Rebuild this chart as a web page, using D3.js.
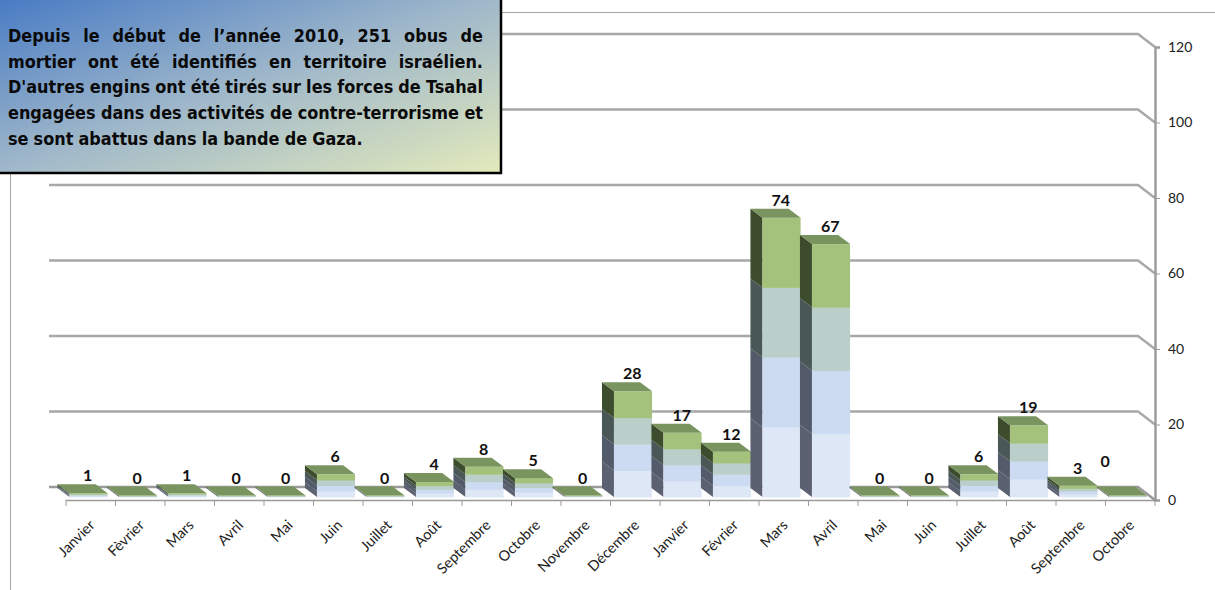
<!DOCTYPE html>
<html>
<head>
<meta charset="utf-8">
<script src="https://cdn.jsdelivr.net/npm/d3@7"></script>
<style>
  body { margin: 0; background: #fff; }
  svg { display: block; }
</style>
</head>
<body>
<div id="chart"></div>
<script>
/*
 *  Data
 */
const months = ['Janvier', 'Fèvrier', 'Mars', 'Avril', 'Mai', 'Juin', 'Juillet', 'Août',
    'Septembre', 'Octobre', 'Novembre', 'Décembre', 'Janvier', 'Février', 'Mars', 'Avril',
    'Mai', 'Juin', 'Juillet', 'Août', 'Septembre', 'Octobre'];
const shells = [1, 0, 1, 0, 0, 6, 0, 4, 8, 5, 0, 28, 17, 12, 74, 67, 0, 0, 6, 19, 3, 0];
const yTicks = [0, 20, 40, 60, 80, 100, 120];
const noteLines = [
    'Depuis le début de l’année 2010, 251 obus de',
    'mortier ont été identifiés en territoire israélien.',
    'D\'autres engins ont été tirés sur les forces de Tsahal',
    'engagées dans des activités de contre-terrorisme et',
    'se sont abattus dans la bande de Gaza.'
];

const data = months.map((m, i) => ({ key: i, month: m, value: shells[i] }));

/*
 *  Draw chart
 */
const width = 1215;
const height = 590;

const svg = d3.select('#chart').append('svg')
    .attr('width', width)
    .attr('height', height);

// Scales
const xScale = d3.scaleBand()
    .domain(data.map(d => d.key))
    .range([66, 1155]);

const yScale = d3.scaleLinear()
    .domain([0, 120])
    .range([500, 47]);

// depth of the back wall and of the bars (3D look)
const wallDx = -17, wallDy = -13;
const barDx = -12, barDy = -9;
const frontDy = -3;

// Chart area border
svg.append('rect')
    .attr('x', 10.5).attr('y', 12.5)
    .attr('width', 1400).attr('height', 800)
    .attr('fill', 'none')
    .attr('stroke', '#a6a6a6');

// Gridlines on back wall + slant to the axis
const grid = svg.append('g').attr('class', 'grid');
grid.selectAll('path')
    .data(yTicks)
    .enter()
    .append('path')
    .attr('d', v => {
        const y = yScale(v);
        return `M${66 + wallDx},${y + wallDy}H${1155 + wallDx}L1155,${y}`;
    })
    .attr('fill', 'none')
    .attr('stroke', v => v === 0 ? '#9a9a9a' : '#a8a8a8')
    .attr('stroke-width', 2.4);

// Front floor edge
svg.append('line')
    .attr('x1', 66).attr('x2', 1155)
    .attr('y1', 500.5).attr('y2', 500.5)
    .attr('stroke', '#9a9a9a')
    .attr('stroke-width', 1.5);

// Category ticks
svg.append('g')
    .selectAll('line')
    .data(d3.range(months.length + 1))
    .enter()
    .append('line')
    .attr('x1', i => 66 + i * xScale.step())
    .attr('x2', i => 66 + i * xScale.step())
    .attr('y1', 500).attr('y2', 506)
    .attr('stroke', '#9a9a9a');

// Value axis (right side)
const yAxis = d3.axisRight(yScale)
    .tickValues(yTicks)
    .tickSize(5)
    .tickPadding(8);

const yAxisGroup = svg.append('g')
    .attr('class', 'axis y-axis')
    .attr('transform', 'translate(1155,0)')
    .call(yAxis);

yAxisGroup.select('.domain')
    .attr('stroke', '#9a9a9a')
    .attr('stroke-width', 2.4);
yAxisGroup.selectAll('.tick line').attr('stroke', '#9a9a9a');
yAxisGroup.selectAll('.tick text')
    .attr('font-family', 'Lato, sans-serif')
    .attr('font-size', 14)
    .attr('fill', '#222');

// Bars
const frontBands = ['#dde7f6', '#cddbf2', '#bacfca', '#a4c27b'];
const sideBands = ['#5b6171', '#535b6b', '#4a5757', '#3e4c2e'];
const topColor = '#7a9460';

const barW = xScale.bandwidth() * 0.77;
const barX = d => xScale(d.key) + xScale.bandwidth() * 0.07;

const bars = svg.append('g')
    .selectAll('g')
    .data(data)
    .enter()
    .append('g')
    .attr('class', 'bar');

bars.each(function(d) {
    const g = d3.select(this);
    const x0 = barX(d);
    const yb = yScale(0) + frontDy;
    const yt = Math.min(yScale(d.value) + frontDy, yb - 1.5);
    const h = yb - yt;

    // four bands up the bar
    for (let k = 0; k < 4; k++) {
        const y1 = yb - h * k / 4;
        const y2 = yb - h * (k + 1) / 4;
        g.append('polygon')
            .attr('points', [[x0, y1], [x0, y2], [x0 + barDx, y2 + barDy], [x0 + barDx, y1 + barDy]].join(' '))
            .attr('fill', sideBands[k]);
        g.append('rect')
            .attr('x', x0)
            .attr('y', y2)
            .attr('width', barW)
            .attr('height', y1 - y2 + 0.4)
            .attr('fill', frontBands[k]);
    }

    // top face
    g.append('polygon')
        .attr('points', [[x0, yt], [x0 + barW, yt], [x0 + barW + barDx, yt + barDy], [x0 + barDx, yt + barDy]].join(' '))
        .attr('fill', topColor);
});

// Value labels (the last one sits higher in the original)
svg.append('g')
    .selectAll('text')
    .data(data)
    .enter()
    .append('text')
    .attr('x', d => xScale(d.key) + xScale.bandwidth() / 2 - 3 + (d.key === 21 ? -22 : 0))
    .attr('y', d => Math.min(yScale(d.value), yScale(0) - 1.5) + frontDy + barDy - 3 + (d.key === 21 ? -17 : 0))
    .attr('text-anchor', 'middle')
    .attr('font-family', 'Lato, sans-serif')
    .attr('font-weight', 'bold')
    .attr('font-size', 16)
    .attr('fill', '#111')
    .text(d => d.value);

// Month labels
svg.append('g')
    .selectAll('text')
    .data(data)
    .enter()
    .append('text')
    .attr('transform', d => `translate(${xScale(d.key) + xScale.bandwidth() / 2 + 5},526) rotate(-45)`)
    .attr('text-anchor', 'end')
    .attr('font-family', 'Lato, sans-serif')
    .attr('font-size', 14.5)
    .attr('fill', '#222')
    .text(d => d.month);

// Note box
const defs = svg.append('defs');
const grad = defs.append('linearGradient')
    .attr('id', 'noteGrad')
    .attr('x1', '0%').attr('y1', '0%')
    .attr('x2', '100%').attr('y2', '100%');
grad.append('stop').attr('offset', '0%').attr('stop-color', '#477ac4');
grad.append('stop').attr('offset', '50%').attr('stop-color', '#a0b8ca');
grad.append('stop').attr('offset', '100%').attr('stop-color', '#e3eabb');

svg.append('rect')
    .attr('x', -3).attr('y', -3)
    .attr('width', 504).attr('height', 176)
    .attr('fill', 'url(#noteGrad)')
    .attr('stroke', '#000')
    .attr('stroke-width', 2.5);

const note = svg.append('g')
    .attr('font-family', '"DejaVu Sans", Verdana, sans-serif')
    .attr('font-weight', 'bold')
    .attr('fill', '#0a0a0a');

const textLeft = 8, textRight = 483;
const fontSize = 17.5;
const spaceW = fontSize * 0.32;

const widths = noteLines.map(line => line.split(' ').map(w => {
    const t = note.append('text').attr('font-size', fontSize).text(w);
    const len = t.node().getComputedTextLength();
    t.remove();
    return len;
}));

// squeeze horizontally so the longest line fits (Tahoma-like width)
const longest = d3.max(widths, ws => d3.sum(ws) + spaceW * (ws.length - 1));
const sx = Math.min(1, (textRight - textLeft) / longest);
const span = (textRight - textLeft) / sx;

noteLines.forEach((line, li) => {
    const words = line.split(' ');
    const ws = widths[li];
    const last = li === noteLines.length - 1;
    const gap = last ? spaceW : (span - d3.sum(ws)) / (words.length - 1);
    const row = note.append('g')
        .attr('transform', `translate(${textLeft},${42 + li * 25.7}) scale(${sx},1)`);
    let x = 0;
    words.forEach((w, wi) => {
        row.append('text')
            .attr('x', x)
            .attr('font-size', fontSize)
            .text(w);
        x += ws[wi] + gap;
    });
});
</script>
</body>
</html>
